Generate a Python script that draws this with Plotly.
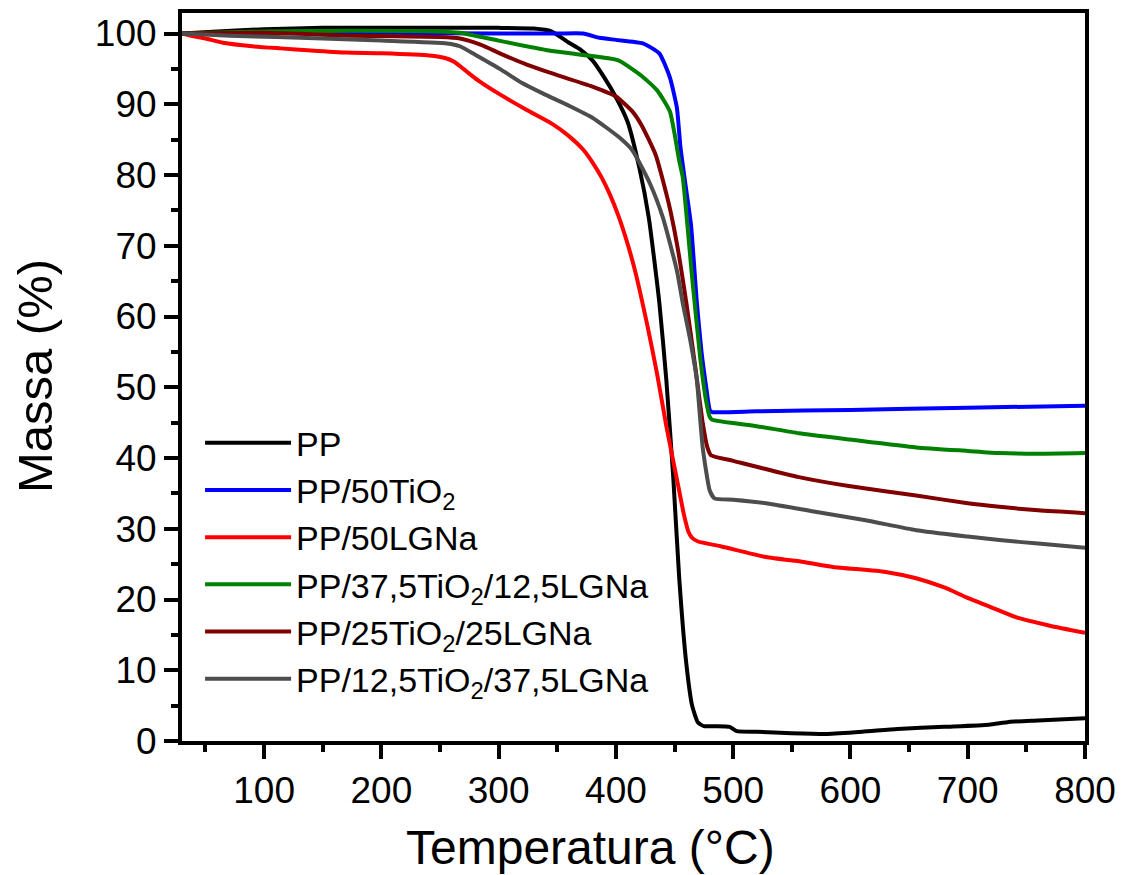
import plotly.graph_objects as go

# ---------------- data ----------------
pp_T = [30, 60, 100, 150, 200, 250, 300, 330, 345, 360, 370, 380, 390, 400, 410, 420, 428,
        437, 443, 449, 454, 460, 465, 470, 475, 485, 497, 503, 520, 550, 580, 610, 640, 680,
        718, 735, 760, 800]
pp_M = [100, 100.3, 100.6, 100.8, 100.8, 100.8, 100.8, 100.7, 100.3, 98.7, 97.7, 96.2, 93.8,
        91.0, 87.5, 81.0, 74.0, 62.0, 51.0, 37.0, 23.0, 11.0, 5.0, 2.6, 2.1, 2.1, 2.0, 1.4,
        1.3, 1.1, 1.0, 1.3, 1.7, 2.0, 2.3, 2.7, 2.9, 3.2]

tio2_T = [30, 100, 200, 300, 350, 372, 386, 400, 423, 437, 446, 452, 455, 459, 464, 469, 473,
          477, 480, 482, 520, 600, 700, 800]
tio2_M = [100, 100.1, 100.1, 100.0, 100.0, 100.0, 99.4, 99.1, 98.6, 97.2, 93.8, 89.5, 84.0,
          79.0, 73.0, 62.0, 55.0, 50.0, 46.8, 46.5, 46.6, 46.8, 47.1, 47.4]

lgna_T = [30, 37, 50, 65, 90, 114, 140, 170, 200, 241, 255, 262, 270, 276, 284, 300, 324, 345,
          360, 372, 380, 388, 395, 402, 409, 415, 420, 427, 435, 443, 452, 458, 462, 465, 470,
          490, 528, 560, 585, 630, 656, 680, 699, 720, 741, 770, 800]
lgna_M = [100, 99.7, 99.3, 98.7, 98.2, 97.9, 97.6, 97.3, 97.2, 96.9, 96.5, 96.0, 95.0, 94.2,
          93.2, 91.5, 89.2, 87.3, 85.5, 83.6, 81.8, 79.6, 77.2, 74.3, 70.8, 67.3, 63.9, 58.6,
          52.0, 44.5, 37.0, 32.0, 29.5, 28.7, 28.2, 27.5, 26.0, 25.3, 24.6, 23.9, 23.0, 21.7,
          20.3, 18.9, 17.5, 16.3, 15.3]

t375_T = [30, 100, 173, 250, 267, 300, 343, 370, 402, 422, 435, 446, 454, 457, 465, 472, 477,
          480, 482, 520, 556, 600, 656, 700, 727, 760, 800]
t375_M = [100, 100.3, 100.4, 100.3, 100.1, 99.0, 97.6, 97.0, 96.2, 94.0, 92.0, 89.0, 82.0,
          79.7, 65.5, 54.0, 48.0, 45.8, 45.4, 44.5, 43.5, 42.6, 41.5, 41.0, 40.7, 40.6, 40.7]

t25_T = [30, 100, 173, 250, 267, 285, 301, 324, 343, 380, 400, 414, 422, 434, 445, 452, 460,
         468, 474, 478, 481, 500, 556, 600, 656, 700, 727, 760, 800]
t25_M = [100, 100.1, 99.7, 99.5, 99.3, 98.4, 97.2, 95.6, 94.5, 92.5, 91.1, 89.0, 87.0, 82.8,
         76.0, 70.3, 62.0, 52.5, 45.0, 41.5, 40.4, 39.6, 37.3, 36.0, 34.7, 33.6, 33.1, 32.6, 32.2]

t125_T = [30, 71, 150, 200, 256, 267, 280, 301, 320, 338, 360, 380, 403, 414, 429, 440, 452,
          457, 463, 469, 474, 480, 484, 500, 528, 570, 613, 656, 700, 727, 760, 800]
t125_M = [100, 99.7, 99.3, 99.0, 98.6, 98.2, 97.0, 95.0, 93.0, 91.5, 89.8, 88.1, 85.3, 83.5,
          78.8, 74.0, 66.5, 61.9, 57.0, 51.0, 41.5, 35.4, 34.3, 34.1, 33.6, 32.4, 31.2, 29.8,
          28.9, 28.4, 27.9, 27.3]

names = ["PP", "PP/50TiO<sub>2</sub>", "PP/50LGNa", "PP/37,5TiO<sub>2</sub>/12,5LGNa",
         "PP/25TiO<sub>2</sub>/25LGNa", "PP/12,5TiO<sub>2</sub>/37,5LGNa"]
colors = ["#000000", "#0000FF", "#FF0000", "#008000", "#800000", "#4D4D4D"]
series_T = [pp_T, tio2_T, lgna_T, t375_T, t25_T, t125_T]
series_M = [pp_M, tio2_M, lgna_M, t375_M, t25_M, t125_M]

x_ticks = [100, 200, 300, 400, 500, 600, 700, 800]
y_ticks = [0, 10, 20, 30, 40, 50, 60, 70, 80, 90, 100]

FONT = "Liberation Sans, Arial, sans-serif"

fig = go.Figure()
for n, c, t, m in zip(names, colors, series_T, series_M):
    fig.add_trace(go.Scatter(x=t, y=m, mode="lines", name=n,
                             line=dict(color=c, width=4, shape="spline", smoothing=0.5)))

axis_common = dict(showline=True, linewidth=4, linecolor="black", mirror=True,
                   ticks="outside", ticklen=14, tickwidth=4, tickcolor="black",
                   showgrid=False, zeroline=False,
                   tickfont=dict(family=FONT, size=37, color="black"))

fig.update_xaxes(range=[30, 800], tickmode="array", tickvals=x_ticks,
                 minor=dict(ticks="outside", ticklen=7, tickwidth=4, tickcolor="black",
                            dtick=50, tick0=0, showgrid=False),
                 **axis_common)
fig.update_yaxes(range=[0, 102.9], tickmode="array", tickvals=y_ticks,
                 minor=dict(ticks="outside", ticklen=7, tickwidth=4, tickcolor="black",
                            dtick=5, tick0=0, showgrid=False),
                 **axis_common)

# the page body has an 8 px margin, so the figure is 8 px smaller on each axis
fig.update_layout(
    width=1117, height=867,
    margin=dict(l=174, r=40, t=5, b=134, autoexpand=False),
    paper_bgcolor="white", plot_bgcolor="white",
    font=dict(family=FONT, color="black"),
    showlegend=True,
    legend=dict(x=0.02, y=0.449, xanchor="left", yanchor="top",
                font=dict(family=FONT, size=34, color="black"),
                bgcolor="rgba(0,0,0,0)", borderwidth=0, itemwidth=86,
                tracegroupgap=0),
    annotations=[
        dict(text="Temperatura (°C)", xref="paper", yref="paper", x=0.452, y=-0.146,
             xanchor="center", yanchor="middle", showarrow=False,
             font=dict(family=FONT, size=48, color="black")),
        dict(text="Massa (%)", xref="paper", yref="paper", x=-0.163, y=0.501,
             xanchor="center", yanchor="middle", showarrow=False, textangle=-90,
             font=dict(family=FONT, size=49, color="black")),
    ],
)

fig.write_html("out.html")
